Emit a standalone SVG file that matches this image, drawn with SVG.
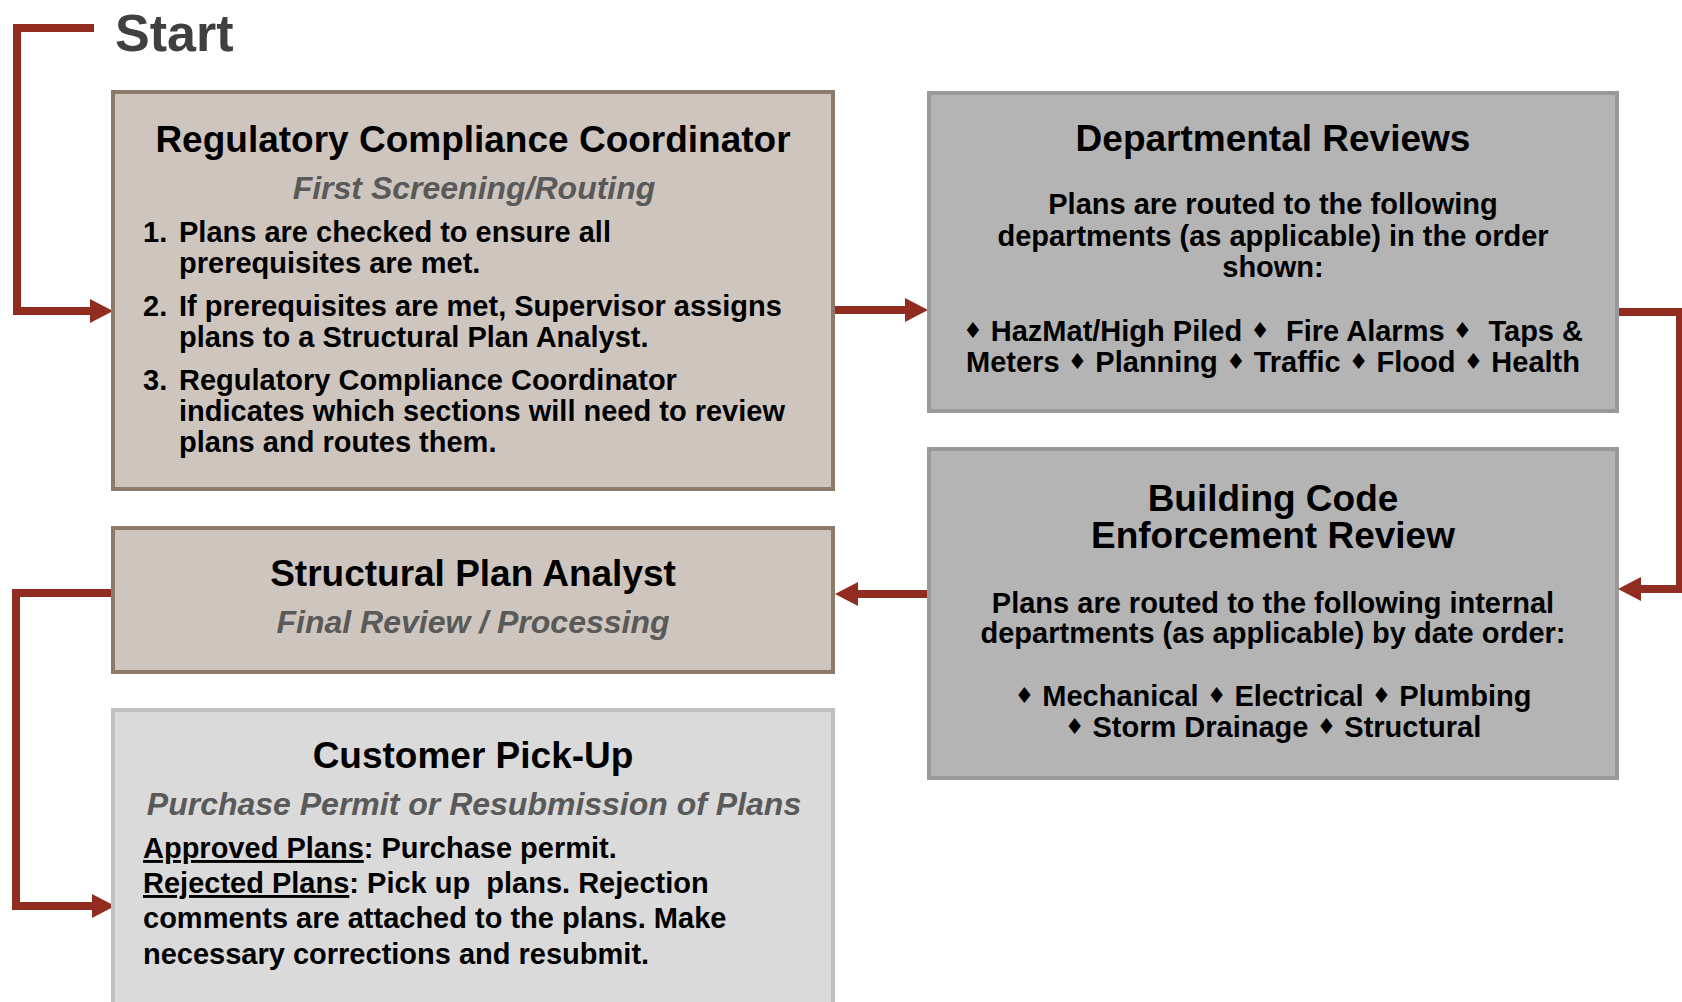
<svg xmlns="http://www.w3.org/2000/svg" width="1682" height="1002" viewBox="0 0 1682 1002">
  <style>
    text { font-family: "Liberation Sans", Arial, sans-serif; font-weight: bold; }
    .title { font-size: 37px; fill: #000; text-anchor: middle; }
    .sub { font-size: 32px; font-style: italic; fill: #595959; text-anchor: middle; }
    .body { font-size: 29px; fill: #000; }
    .mid { text-anchor: middle; }
    .dia { font-size: 22px; font-family: "DejaVu Sans", sans-serif; baseline-shift: 3px; }
    .tan { fill: #CEC6BE; stroke: #8C7B6B; stroke-width: 4; }
    .gray { fill: #B4B4B4; stroke: #999999; stroke-width: 4; }
    .light { fill: #DADADA; stroke: #BFBFBF; stroke-width: 4; }
    .conn { fill: none; stroke: #912C20; stroke-width: 8; stroke-linejoin: miter; marker-end: url(#head); }
  </style>
  <defs>
    <marker id="head" markerUnits="userSpaceOnUse" viewBox="0 0 23 24" markerWidth="23" markerHeight="24" refX="0" refY="12" orient="auto">
      <path d="M0,0 L23,12 L0,24 Z" fill="#912C20"/>
    </marker>
  </defs>

  <rect width="1682" height="1002" fill="#FFFFFF"/>

  <text x="115" y="51" style="font-size:52px;fill:#404040">Start</text>

  <!-- connectors -->
  <g id="connectors">
    <path class="conn" d="M94,28 H17 V311 H90"/>
    <path class="conn" d="M835,310 H905"/>
    <path class="conn" d="M1619,312 H1680 V589 H1641"/>
    <path class="conn" d="M929,594 H858"/>
    <path class="conn" d="M111,593 H16 V906 H92"/>
  </g>

  <g id="regulatory-compliance-coordinator">
    <rect class="tan" x="113" y="92" width="720" height="397"/>
    <text class="title" x="473" y="152">Regulatory Compliance Coordinator</text>
    <text class="sub" x="474" y="199">First Screening/Routing</text>
    <text class="body" x="143" y="242">1.</text>
    <text class="body" x="179" y="242">Plans are checked to ensure all</text>
    <text class="body" x="179" y="273">prerequisites are met.</text>
    <text class="body" x="143" y="316">2.</text>
    <text class="body" x="179" y="316">If prerequisites are met, Supervisor assigns</text>
    <text class="body" x="179" y="347">plans to a Structural Plan Analyst.</text>
    <text class="body" x="143" y="390">3.</text>
    <text class="body" x="179" y="390">Regulatory Compliance Coordinator</text>
    <text class="body" x="179" y="421">indicates which sections will need to review</text>
    <text class="body" x="179" y="452">plans and routes them.</text>
  </g>

  <g id="departmental-reviews">
    <rect class="gray" x="929" y="93" width="688" height="318"/>
    <text class="title" x="1273" y="151">Departmental Reviews</text>
    <text class="body mid" x="1273" y="214">Plans are routed to the following</text>
    <text class="body mid" x="1273" y="246">departments (as applicable) in the order</text>
    <text class="body mid" x="1273" y="277">shown:</text>
    <text class="body mid" x="1273" y="341" xml:space="preserve"><tspan class="dia">♦</tspan> HazMat/High Piled <tspan class="dia">♦</tspan>  Fire Alarms <tspan class="dia">♦</tspan>  Taps &amp;</text>
    <text class="body mid" x="1273" y="372">Meters <tspan class="dia">♦</tspan> Planning <tspan class="dia">♦</tspan> Traffic <tspan class="dia">♦</tspan> Flood <tspan class="dia">♦</tspan> Health</text>
  </g>

  <g id="building-code-enforcement-review">
    <rect class="gray" x="929" y="449" width="688" height="329"/>
    <text class="title" x="1273" y="511">Building Code</text>
    <text class="title" x="1273" y="548">Enforcement Review</text>
    <text class="body mid" x="1273" y="613">Plans are routed to the following internal</text>
    <text class="body mid" x="1273" y="643">departments (as applicable) by date order:</text>
    <text class="body mid" x="1273" y="706"><tspan class="dia">♦</tspan> Mechanical <tspan class="dia">♦</tspan> Electrical <tspan class="dia">♦</tspan> Plumbing</text>
    <text class="body mid" x="1273" y="737"><tspan class="dia">♦</tspan> Storm Drainage <tspan class="dia">♦</tspan> Structural</text>
  </g>

  <g id="structural-plan-analyst">
    <rect class="tan" x="113" y="528" width="720" height="144"/>
    <text class="title" x="473" y="586">Structural Plan Analyst</text>
    <text class="sub" x="473" y="633">Final Review / Processing</text>
  </g>

  <g id="customer-pick-up">
    <rect class="light" x="113" y="710" width="720" height="310"/>
    <text class="title" x="473" y="768">Customer Pick-Up</text>
    <text class="sub" x="474" y="815">Purchase Permit or Resubmission of Plans</text>
    <text class="body" x="143" y="858"><tspan text-decoration="underline">Approved Plans</tspan>: Purchase permit.</text>
    <text class="body" x="143" y="893" xml:space="preserve"><tspan text-decoration="underline">Rejected Plans</tspan>: Pick up  plans. Rejection</text>
    <text class="body" x="143" y="928">comments are attached to the plans. Make</text>
    <text class="body" x="143" y="964">necessary corrections and resubmit.</text>
  </g>
</svg>
